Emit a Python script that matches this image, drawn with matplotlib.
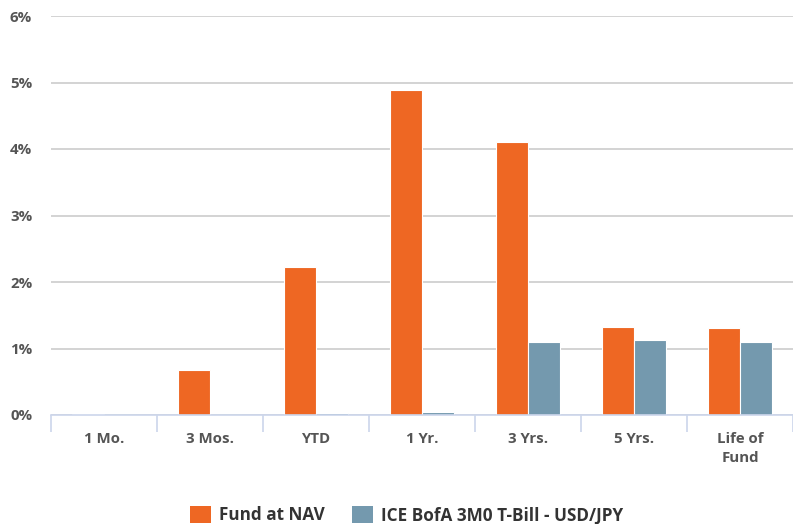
import matplotlib
matplotlib.use("Agg")
import matplotlib.pyplot as plt
import numpy as np
from matplotlib.patches import Patch

categories = ["1 Mo.", "3 Mos.", "YTD", "1 Yr.", "3 Yrs.", "5 Yrs.", "Life of\nFund"]
fund_nav = [0.01, 0.68, 2.23, 4.89, 4.11, 1.32, 1.31]
benchmark = [0.00, 0.00, 0.03, 0.05, 1.10, 1.13, 1.10]
series_names = ["Fund at NAV", "ICE BofA 3M0 T-Bill - USD/JPY"]
yticks = [0, 1, 2, 3, 4, 5, 6]

orange = "#EE6723"
blue = "#7499AE"
fam = ["Open Sans", "DejaVu Sans"]

fig = plt.figure(figsize=(7.93, 5.24), dpi=100)
ax = fig.add_axes([51/793, 1-415/524, (793-51)/793, (415-16)/524])

x = np.arange(len(categories))
w = 0.3
ax.bar(x - w/2, fund_nav, width=w, color=orange, edgecolor="white", linewidth=0.8, zorder=3)
ax.bar(x + w/2, benchmark, width=w, color=blue, edgecolor="white", linewidth=0.8, zorder=3)

ax.set_xlim(-0.5, len(categories) - 0.5)
ax.set_ylim(0, 6)
ax.set_yticks(yticks)
ax.set_yticklabels([f"{v}%" for v in yticks])
ax.yaxis.grid(True, color="#CCCCCC", linewidth=1.2, zorder=0)
ax.set_axisbelow(True)

for s in ["top", "right", "left"]:
    ax.spines[s].set_visible(False)
ax.spines["bottom"].set_color("#CCD6EB")
ax.spines["bottom"].set_linewidth(1.2)
ax.spines["bottom"].set_zorder(4)

ax.set_xticks(x)
ax.set_xticklabels(categories)
ax.tick_params(axis="x", length=0, pad=12, labelsize=10.8, labelcolor="#555555")
ax.tick_params(axis="y", length=0, pad=13.5, labelsize=10.8, labelcolor="#555555")
for lab in ax.get_xticklabels() + ax.get_yticklabels():
    lab.set_fontweight("bold")
    lab.set_family(fam)
for lab in ax.get_xticklabels():
    lab.set_linespacing(1.45)
    lab.set_verticalalignment("top")

# category boundary tick marks
ax.set_xticks(np.arange(len(categories) + 1) - 0.5, minor=True)
ax.tick_params(axis="x", which="minor", length=12, color="#CCD6EB", width=1.2)

handles = [Patch(facecolor=orange, label=series_names[0]),
           Patch(facecolor=blue, label=series_names[1])]
leg = fig.legend(handles=handles, loc="center", bbox_to_anchor=(0.513, 1-515/524),
                 ncol=2, frameon=False, handlelength=1.2, handleheight=1.2,
                 columnspacing=1.6, handletextpad=0.5,
                 prop={"family": fam, "weight": "bold", "size": 12.3})
for t in leg.get_texts():
    t.set_color("#333333")

fig.savefig("out.png", dpi=100)
